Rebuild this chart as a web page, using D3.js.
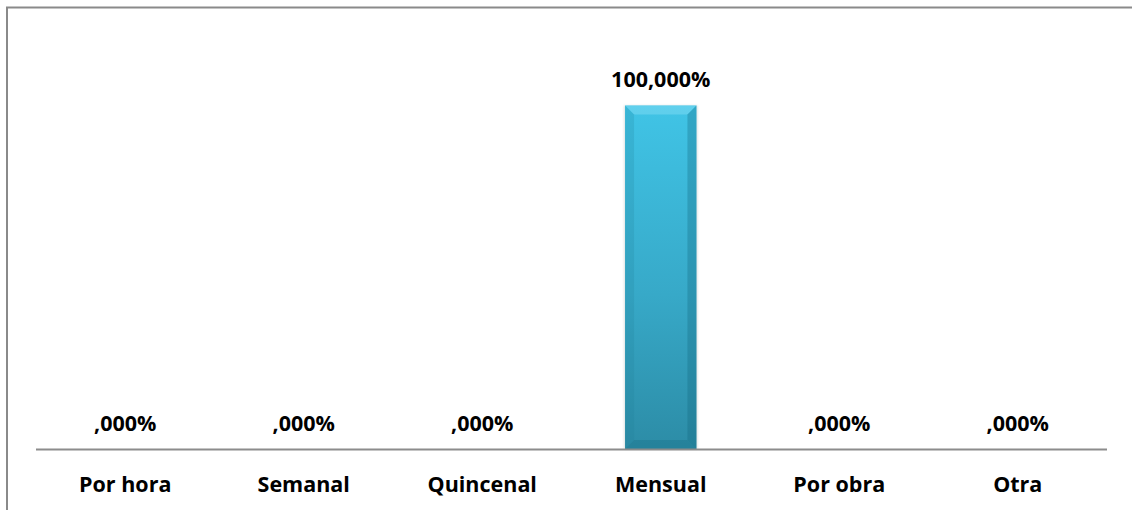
<!DOCTYPE html>
<html>
<head>
<meta charset="utf-8">
<script src="https://cdn.jsdelivr.net/npm/d3@7"></script>
<style>
  html, body { margin: 0; padding: 0; background: #fff; }
  svg { display: block; }
  text { font-family: "Open Sans", Lato, sans-serif; font-weight: bold; fill: #000; }
</style>
</head>
<body>
<svg id="chart" width="1132" height="510"></svg>
<script>
// Forma de pago
const categories = ["Por hora", "Semanal", "Quincenal", "Mensual", "Por obra", "Otra"];
const values = [0, 0, 0, 100, 0, 0];

const svg = d3.select("#chart");
const W = 1132, H = 510;

// outer chart frame
svg.append("rect")
  .attr("x", 7).attr("y", 7.5)
  .attr("width", W + 10).attr("height", H + 10)
  .attr("fill", "none")
  .attr("stroke", "#8a8a8a")
  .attr("stroke-width", 2);

const x = d3.scaleBand()
  .domain(categories)
  .range([36, 1107])
  .paddingInner(0.6)
  .paddingOuter(0.3);

const y = d3.scaleLinear().domain([0, 100]).range([449, 105.5]);

const defs = svg.append("defs");
const grad = defs.append("linearGradient")
  .attr("id", "barFill").attr("x1", 0).attr("y1", 0).attr("x2", 0).attr("y2", 1);
grad.append("stop").attr("offset", "0%").attr("stop-color", "#40c4e6");
grad.append("stop").attr("offset", "55%").attr("stop-color", "#37a9c8");
grad.append("stop").attr("offset", "100%").attr("stop-color", "#2c8ca6");

const shadow = defs.append("filter").attr("id", "soft")
  .attr("x", "-10%").attr("y", "-5%").attr("width", "120%").attr("height", "110%");
shadow.append("feGaussianBlur").attr("stdDeviation", 1.2);

const bars = svg.append("g");
const bevel = 9;

values.forEach((v, i) => {
  if (v <= 0) return;
  const c = categories[i];
  const x0 = x(c), x1 = x(c) + x.bandwidth();
  const y0 = y(v), y1 = y(0);
  const g = bars.append("g");
  // faint shadow around bar
  g.append("rect")
    .attr("x", x0 - 1).attr("y", y0).attr("width", x1 - x0 + 2).attr("height", y1 - y0)
    .attr("fill", "#9aa").attr("opacity", 0.35).attr("filter", "url(#soft)");
  g.append("rect")
    .attr("x", x0).attr("y", y0).attr("width", x1 - x0).attr("height", y1 - y0)
    .attr("fill", "url(#barFill)");
  // bevel facets
  const face = (pts, col, op) => g.append("polygon")
    .attr("points", pts.map(p => p.join(",")).join(" "))
    .attr("fill", col).attr("opacity", op);
  face([[x0, y0], [x1, y0], [x1 - bevel, y0 + bevel], [x0 + bevel, y0 + bevel]], "#7fdcf3", 0.5);
  face([[x0, y0], [x0 + bevel, y0 + bevel], [x0 + bevel, y1 - bevel], [x0, y1]], "#1f7f98", 0.2);
  face([[x1, y0], [x1, y1], [x1 - bevel, y1 - bevel], [x1 - bevel, y0 + bevel]], "#12657c", 0.3);
  face([[x0, y1], [x0 + bevel, y1 - bevel], [x1 - bevel, y1 - bevel], [x1, y1]], "#1b6f86", 0.35);
});

// baseline
svg.append("line")
  .attr("x1", 36).attr("x2", 1107).attr("y1", 449.5).attr("y2", 449.5)
  .attr("stroke", "#8c8c8c").attr("stroke-width", 2);

// value labels
const fmt = v => (v === 0 ? "" : String(v)) + ",000%";
svg.append("g").selectAll("text")
  .data(categories)
  .join("text")
  .attr("x", c => x(c) + x.bandwidth() / 2)
  .attr("y", (c, i) => y(values[i]) - 18.5)
  .attr("text-anchor", "middle")
  .attr("font-size", 21.5)
  .text((c, i) => fmt(values[i]));

// category axis labels
svg.append("g").selectAll("text")
  .data(categories)
  .join("text")
  .attr("x", c => x(c) + x.bandwidth() / 2)
  .attr("y", 492)
  .attr("text-anchor", "middle")
  .attr("font-size", 21.5)
  .text(c => c);
</script>
</body>
</html>
